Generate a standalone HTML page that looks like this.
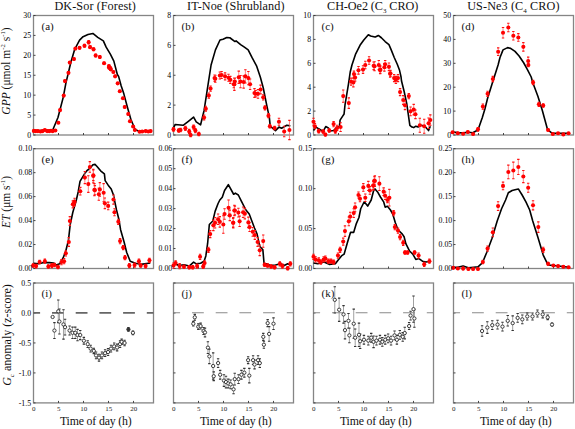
<!DOCTYPE html><html><head><meta charset="utf-8"><style>
html,body{margin:0;padding:0;background:#fff;width:575px;height:429px;overflow:hidden;position:relative}
body{font-family:"Liberation Serif",serif;color:#111}
.t{position:absolute;white-space:nowrap;line-height:1}
.tl{position:absolute;white-space:nowrap;line-height:1;font-size:7.8px;color:#000}
sub,sup{font-size:0.58em;line-height:0}
</style></head><body>
<svg width="575" height="429" viewBox="0 0 575 429" style="position:absolute;left:0;top:0">
<rect x="33.5" y="15.5" width="120" height="119.5" fill="none" stroke="#858585" stroke-width="1.3"/>
<path d="M33.5 135h2 M33.5 115.08h2 M33.5 95.17h2 M33.5 75.25h2 M33.5 55.33h2 M33.5 35.42h2 M33.5 15.5h2 M58.5 135v-2 M83.5 135v-2 M108.5 135v-2 M133.5 135v-2" stroke="#333" stroke-width="0.9" fill="none"/>
<polyline points="33.5,130.91 52.73,130.03 57.97,117.45 63.22,97.34 65.84,83.36 70.21,65 71.19,61.15 74.69,49.27 79.58,40.17 83.08,36.68 87.97,34.58 92.87,33.46 97.76,37.38 103.36,40.87 106.15,47.17 110.35,54.16 113.85,61.15 117.34,74.44 118.6,76.36 121.22,85.98 123.85,93.85 127.34,106.96 130.84,119.2 135.21,129.69 138.71,131.08 150.94,131.08" fill="none" stroke="#000" stroke-width="1.6" stroke-linejoin="round"/>
<path d="M33.85 130.21V131.61 M35.77 130.38V131.78 M37.87 130.38V131.78 M40.49 130.73V132.13 M42.59 130.38V131.78 M44.86 129.34V130.73 M47.13 130.38V131.78 M49.23 130.38V131.78 M50.98 130.03V131.43 M52.73 130.38V131.78 M55.35 129.86V131.26 M58.32 121.82V123.57 M60.07 109.06V111.15 M63.74 94.55V96.64 M64.97 80.03V82.13 M68.46 71.82V73.92 M69.79 61.43V63.67 M73.99 57.94V60.17 M75.38 47.45V49.69 M79.58 46.75V48.99 M84.48 44.37V47.17 M88.67 40.59V43.95 M90.07 45.77V48.57 M93.57 47.87V50.66 M95.66 54.16V56.96 M99.86 55.56V58.36 M104.06 62.13V64.37 M108.95 64.93V67.17 M110.35 67.03V69.27 M108.99 66.57V68.67 M110.73 68.32V70.42 M113.36 70.94V73.04 M115.1 75.31V77.41 M117.73 82.48V84.23 M119.83 90.35V92.1 M122.97 97.34V99.09 M124.72 106.08V107.83 M128.22 113.08V114.83 M129.97 120.42V122.17 M133.11 125.66V127.41 M134.86 129.34V130.73 M139.58 131.08V132.48 M142.2 130.73V132.13 M145.7 130.38V131.78 M148.32 130.73V132.13 M150.59 130.38V131.78" stroke="#f66" stroke-width="0.8" fill="none"/>
<path d="M32.65 130.21h2.4M32.65 131.61h2.4 M34.57 130.38h2.4M34.57 131.78h2.4 M36.67 130.38h2.4M36.67 131.78h2.4 M39.29 130.73h2.4M39.29 132.13h2.4 M41.39 130.38h2.4M41.39 131.78h2.4 M43.66 129.34h2.4M43.66 130.73h2.4 M45.93 130.38h2.4M45.93 131.78h2.4 M48.03 130.38h2.4M48.03 131.78h2.4 M49.78 130.03h2.4M49.78 131.43h2.4 M51.53 130.38h2.4M51.53 131.78h2.4 M54.15 129.86h2.4M54.15 131.26h2.4 M57.12 121.82h2.4M57.12 123.57h2.4 M58.87 109.06h2.4M58.87 111.15h2.4 M62.54 94.55h2.4M62.54 96.64h2.4 M63.77 80.03h2.4M63.77 82.13h2.4 M67.26 71.82h2.4M67.26 73.92h2.4 M68.59 61.43h2.4M68.59 63.67h2.4 M72.79 57.94h2.4M72.79 60.17h2.4 M74.18 47.45h2.4M74.18 49.69h2.4 M78.38 46.75h2.4M78.38 48.99h2.4 M83.28 44.37h2.4M83.28 47.17h2.4 M87.47 40.59h2.4M87.47 43.95h2.4 M88.87 45.77h2.4M88.87 48.57h2.4 M92.37 47.87h2.4M92.37 50.66h2.4 M94.46 54.16h2.4M94.46 56.96h2.4 M98.66 55.56h2.4M98.66 58.36h2.4 M102.86 62.13h2.4M102.86 64.37h2.4 M107.75 64.93h2.4M107.75 67.17h2.4 M109.15 67.03h2.4M109.15 69.27h2.4 M107.79 66.57h2.4M107.79 68.67h2.4 M109.53 68.32h2.4M109.53 70.42h2.4 M112.16 70.94h2.4M112.16 73.04h2.4 M113.9 75.31h2.4M113.9 77.41h2.4 M116.53 82.48h2.4M116.53 84.23h2.4 M118.63 90.35h2.4M118.63 92.1h2.4 M121.77 97.34h2.4M121.77 99.09h2.4 M123.52 106.08h2.4M123.52 107.83h2.4 M127.02 113.08h2.4M127.02 114.83h2.4 M128.77 120.42h2.4M128.77 122.17h2.4 M131.91 125.66h2.4M131.91 127.41h2.4 M133.66 129.34h2.4M133.66 130.73h2.4 M138.38 131.08h2.4M138.38 132.48h2.4 M141 130.73h2.4M141 132.13h2.4 M144.5 130.38h2.4M144.5 131.78h2.4 M147.12 130.73h2.4M147.12 132.13h2.4 M149.39 130.38h2.4M149.39 131.78h2.4" stroke="#f11" stroke-width="1.1" fill="none"/>
<circle cx="33.85" cy="130.91" r="2.05" fill="#f00"/>
<circle cx="35.77" cy="131.08" r="2.05" fill="#f00"/>
<circle cx="37.87" cy="131.08" r="2.05" fill="#f00"/>
<circle cx="40.49" cy="131.43" r="2.05" fill="#f00"/>
<circle cx="42.59" cy="131.08" r="2.05" fill="#f00"/>
<circle cx="44.86" cy="130.03" r="2.05" fill="#f00"/>
<circle cx="47.13" cy="131.08" r="2.05" fill="#f00"/>
<circle cx="49.23" cy="131.08" r="2.05" fill="#f00"/>
<circle cx="50.98" cy="130.73" r="2.05" fill="#f00"/>
<circle cx="52.73" cy="131.08" r="2.05" fill="#f00"/>
<circle cx="55.35" cy="130.56" r="2.05" fill="#f00"/>
<circle cx="58.32" cy="122.69" r="2.05" fill="#f00"/>
<circle cx="60.07" cy="110.1" r="2.05" fill="#f00"/>
<circle cx="63.74" cy="95.59" r="2.05" fill="#f00"/>
<circle cx="64.97" cy="81.08" r="2.05" fill="#f00"/>
<circle cx="68.46" cy="72.87" r="2.05" fill="#f00"/>
<circle cx="69.79" cy="62.55" r="2.05" fill="#f00"/>
<circle cx="73.99" cy="59.06" r="2.05" fill="#f00"/>
<circle cx="75.38" cy="48.57" r="2.05" fill="#f00"/>
<circle cx="79.58" cy="47.87" r="2.05" fill="#f00"/>
<circle cx="84.48" cy="45.77" r="2.05" fill="#f00"/>
<circle cx="88.67" cy="42.27" r="2.05" fill="#f00"/>
<circle cx="90.07" cy="47.17" r="2.05" fill="#f00"/>
<circle cx="93.57" cy="49.27" r="2.05" fill="#f00"/>
<circle cx="95.66" cy="55.56" r="2.05" fill="#f00"/>
<circle cx="99.86" cy="56.96" r="2.05" fill="#f00"/>
<circle cx="104.06" cy="63.25" r="2.05" fill="#f00"/>
<circle cx="108.95" cy="66.05" r="2.05" fill="#f00"/>
<circle cx="110.35" cy="68.15" r="2.05" fill="#f00"/>
<circle cx="108.99" cy="67.62" r="2.05" fill="#f00"/>
<circle cx="110.73" cy="69.37" r="2.05" fill="#f00"/>
<circle cx="113.36" cy="71.99" r="2.05" fill="#f00"/>
<circle cx="115.1" cy="76.36" r="2.05" fill="#f00"/>
<circle cx="117.73" cy="83.36" r="2.05" fill="#f00"/>
<circle cx="119.83" cy="91.22" r="2.05" fill="#f00"/>
<circle cx="122.97" cy="98.22" r="2.05" fill="#f00"/>
<circle cx="124.72" cy="106.96" r="2.05" fill="#f00"/>
<circle cx="128.22" cy="113.95" r="2.05" fill="#f00"/>
<circle cx="129.97" cy="121.29" r="2.05" fill="#f00"/>
<circle cx="133.11" cy="126.54" r="2.05" fill="#f00"/>
<circle cx="134.86" cy="130.03" r="2.05" fill="#f00"/>
<circle cx="139.58" cy="131.78" r="2.05" fill="#f00"/>
<circle cx="142.2" cy="131.43" r="2.05" fill="#f00"/>
<circle cx="145.7" cy="131.08" r="2.05" fill="#f00"/>
<circle cx="148.32" cy="131.43" r="2.05" fill="#f00"/>
<circle cx="150.59" cy="131.08" r="2.05" fill="#f00"/>
<rect x="173.5" y="15.5" width="120" height="119.5" fill="none" stroke="#858585" stroke-width="1.3"/>
<path d="M173.5 135h2 M173.5 105.12h2 M173.5 75.25h2 M173.5 45.38h2 M173.5 15.5h2 M198.5 135v-2 M223.5 135v-2 M248.5 135v-2 M273.5 135v-2" stroke="#333" stroke-width="0.9" fill="none"/>
<polyline points="173.5,127.94 175.24,124.44 183.11,125.31 188.36,121.29 193.6,117.1 196.22,121.82 200.59,124.79 204.09,110.45 207.59,87.73 211.08,65 215.45,49.88 220,40.03 223.03,39.27 226.82,37.45 229.85,37.76 235,41.55 236.06,40.79 240.61,44.58 244.39,47.15 248.18,49.88 251.97,57.45 256.52,65.79 260.3,77 263.22,87.73 266.71,105.21 269.34,117.45 270.21,126.19 275.45,130.56 278.95,127.06 281.57,128.29 286.82,125.31 290.31,125.84" fill="none" stroke="#000" stroke-width="1.6" stroke-linejoin="round"/>
<path d="M173.5 127.59V131.08 M178.74 128.81V132.31 M180.49 128.29V131.78 M185.38 126.19V130.38 M189.23 129.34V133.53 M190.63 133.18V136.68 M193.6 124.97V129.16 M195.35 128.46V132.66 M198.85 132.31V135.8 M204.09 115V119.9 M205.84 106.26V111.15 M208.81 92.97V98.22 M210.56 85.98V91.22 M214.58 74.97V81.26 M219.83 71.99V78.99 M225.07 72.87V79.86 M230.31 76.36V83.36 M233.81 80.73V87.73 M215.3 75.3V82.3 M221.6 71.5V78.5 M228.5 74.3V81.3 M234.8 78.1V85.1 M255.6 90.5V96.9 M234.37 78.11V90.35 M238.74 71.12V83.36 M240.49 75.49V87.73 M243.64 75.84V88.08 M245.38 69.72V83.01 M248.36 71.47V84.76 M250.1 78.99V89.48 M254.48 88.6V97.34 M257.97 89.48V98.22 M260.59 85.1V93.85 M263.22 94.72V99.97 M264.97 105.73V109.93 M268.46 113.6V117.8 M269.86 124.44V127.94 M274.58 126.19V129.69 M278.95 118.32V125.31 M284.2 126.19V136.68 M289.44 120.42V139.65" stroke="#f66" stroke-width="0.8" fill="none"/>
<path d="M172.3 127.59h2.4M172.3 131.08h2.4 M177.54 128.81h2.4M177.54 132.31h2.4 M179.29 128.29h2.4M179.29 131.78h2.4 M184.18 126.19h2.4M184.18 130.38h2.4 M188.03 129.34h2.4M188.03 133.53h2.4 M189.43 133.18h2.4M189.43 136.68h2.4 M192.4 124.97h2.4M192.4 129.16h2.4 M194.15 128.46h2.4M194.15 132.66h2.4 M197.65 132.31h2.4M197.65 135.8h2.4 M202.89 115h2.4M202.89 119.9h2.4 M204.64 106.26h2.4M204.64 111.15h2.4 M207.61 92.97h2.4M207.61 98.22h2.4 M209.36 85.98h2.4M209.36 91.22h2.4 M213.38 74.97h2.4M213.38 81.26h2.4 M218.63 71.99h2.4M218.63 78.99h2.4 M223.87 72.87h2.4M223.87 79.86h2.4 M229.11 76.36h2.4M229.11 83.36h2.4 M232.61 80.73h2.4M232.61 87.73h2.4 M214.1 75.3h2.4M214.1 82.3h2.4 M220.4 71.5h2.4M220.4 78.5h2.4 M227.3 74.3h2.4M227.3 81.3h2.4 M233.6 78.1h2.4M233.6 85.1h2.4 M254.4 90.5h2.4M254.4 96.9h2.4 M233.17 78.11h2.4M233.17 90.35h2.4 M237.54 71.12h2.4M237.54 83.36h2.4 M239.29 75.49h2.4M239.29 87.73h2.4 M242.44 75.84h2.4M242.44 88.08h2.4 M244.18 69.72h2.4M244.18 83.01h2.4 M247.16 71.47h2.4M247.16 84.76h2.4 M248.9 78.99h2.4M248.9 89.48h2.4 M253.28 88.6h2.4M253.28 97.34h2.4 M256.77 89.48h2.4M256.77 98.22h2.4 M259.39 85.1h2.4M259.39 93.85h2.4 M262.02 94.72h2.4M262.02 99.97h2.4 M263.77 105.73h2.4M263.77 109.93h2.4 M267.26 113.6h2.4M267.26 117.8h2.4 M268.66 124.44h2.4M268.66 127.94h2.4 M273.38 126.19h2.4M273.38 129.69h2.4 M277.75 118.32h2.4M277.75 125.31h2.4 M283 126.19h2.4M283 136.68h2.4 M288.24 120.42h2.4M288.24 139.65h2.4" stroke="#f11" stroke-width="1.1" fill="none"/>
<circle cx="173.5" cy="129.34" r="2.05" fill="#f00"/>
<circle cx="178.74" cy="130.56" r="2.05" fill="#f00"/>
<circle cx="180.49" cy="130.03" r="2.05" fill="#f00"/>
<circle cx="185.38" cy="128.29" r="2.05" fill="#f00"/>
<circle cx="189.23" cy="131.43" r="2.05" fill="#f00"/>
<circle cx="190.63" cy="134.93" r="2.05" fill="#f00"/>
<circle cx="193.6" cy="127.06" r="2.05" fill="#f00"/>
<circle cx="195.35" cy="130.56" r="2.05" fill="#f00"/>
<circle cx="198.85" cy="134.06" r="2.05" fill="#f00"/>
<circle cx="204.09" cy="117.45" r="2.05" fill="#f00"/>
<circle cx="205.84" cy="108.71" r="2.05" fill="#f00"/>
<circle cx="208.81" cy="95.59" r="2.05" fill="#f00"/>
<circle cx="210.56" cy="88.6" r="2.05" fill="#f00"/>
<circle cx="214.58" cy="78.11" r="2.05" fill="#f00"/>
<circle cx="219.83" cy="75.49" r="2.05" fill="#f00"/>
<circle cx="225.07" cy="76.36" r="2.05" fill="#f00"/>
<circle cx="230.31" cy="79.86" r="2.05" fill="#f00"/>
<circle cx="233.81" cy="84.23" r="2.05" fill="#f00"/>
<circle cx="215.3" cy="78.8" r="2.05" fill="#f00"/>
<circle cx="221.6" cy="75" r="2.05" fill="#f00"/>
<circle cx="228.5" cy="77.8" r="2.05" fill="#f00"/>
<circle cx="234.8" cy="81.6" r="2.05" fill="#f00"/>
<circle cx="255.6" cy="93.7" r="2.05" fill="#f00"/>
<circle cx="234.37" cy="84.23" r="2.05" fill="#f00"/>
<circle cx="238.74" cy="77.24" r="2.05" fill="#f00"/>
<circle cx="240.49" cy="81.61" r="2.05" fill="#f00"/>
<circle cx="243.64" cy="81.96" r="2.05" fill="#f00"/>
<circle cx="245.38" cy="76.36" r="2.05" fill="#f00"/>
<circle cx="248.36" cy="78.11" r="2.05" fill="#f00"/>
<circle cx="250.1" cy="84.23" r="2.05" fill="#f00"/>
<circle cx="254.48" cy="92.97" r="2.05" fill="#f00"/>
<circle cx="257.97" cy="93.85" r="2.05" fill="#f00"/>
<circle cx="260.59" cy="89.48" r="2.05" fill="#f00"/>
<circle cx="263.22" cy="97.34" r="2.05" fill="#f00"/>
<circle cx="264.97" cy="107.83" r="2.05" fill="#f00"/>
<circle cx="268.46" cy="115.7" r="2.05" fill="#f00"/>
<circle cx="269.86" cy="126.19" r="2.05" fill="#f00"/>
<circle cx="274.58" cy="127.94" r="2.05" fill="#f00"/>
<circle cx="278.95" cy="121.82" r="2.05" fill="#f00"/>
<circle cx="284.2" cy="131.43" r="2.05" fill="#f00"/>
<circle cx="289.44" cy="130.03" r="2.05" fill="#f00"/>
<rect x="313.5" y="15.5" width="120" height="119.5" fill="none" stroke="#858585" stroke-width="1.3"/>
<path d="M313.5 135h2 M313.5 111.1h2 M313.5 87.2h2 M313.5 63.3h2 M313.5 39.4h2 M313.5 15.5h2 M338.5 135v-2 M363.5 135v-2 M388.5 135v-2 M413.5 135v-2" stroke="#333" stroke-width="0.9" fill="none"/>
<polyline points="313.5,130.56 316.12,127.06 318.74,128.81 323.11,131.43 325.73,126.54 328.36,127.94 330.1,131.08 333.6,130.56 337.1,127.06 339.37,127.06 340.07,120.07 342.34,116.57 344.09,113.95 344.97,105.21 346.71,94.72 348.46,84.23 350.21,71.99 351.96,65 355.45,54.42 360,45.33 363.79,40.03 368.33,34.73 370.61,35.94 375,37 375.3,37 378.33,35.48 381.36,37.76 385.15,41.55 388.94,44.58 391.21,49.88 394.24,57.45 397.27,64.27 399.55,70.33 401.06,77 401.47,80.73 404.09,91.22 406.71,103.46 408.46,115.7 409.86,125.31 411.96,127.06 413.71,127.59 415.8,126.19 418.08,127.06 420.7,125.31 423.32,125.84 425.94,127.59 428.57,130.56 430.31,126.19" fill="none" stroke="#000" stroke-width="1.6" stroke-linejoin="round"/>
<path d="M313.5 118.32V125.31 M314.9 123.57V128.81 M318.74 129.34V132.83 M323.11 129.69V133.18 M325.38 133.18V135.98 M329.23 128.81V132.31 M333.6 121.47V126.71 M335.35 128.99V133.18 M337.1 125.31V130.56 M340.59 122.69V131.43 M343.22 90V102.24 M348.81 97.87V108.36 M351.08 78.11V85.1 M353.36 78.11V86.85 M355.1 74.09V81.08 M353.94 71.09V77.15 M358.48 66.55V74.12 M363.03 65.79V73.36 M365.3 61.24V68.82 M369.09 56.7V64.27 M373.64 62V69.58 M374.55 61.7V70.79 M378.79 60.48V69.58 M380.3 65.79V73.36 M384.39 63.52V71.09 M385.15 60.48V68.06 M388.94 63.06V70.64 M390.45 70.33V76.39 M380.14 66.75V73.74 M390.1 70.24V77.24 M394.13 74.62V81.61 M395.87 76.36V83.36 M397.97 74.62V81.61 M400.07 88.6V95.59 M403.22 95.59V104.34 M404.97 100.84V109.58 M408.81 93.5V98.74 M410.56 106.96V115.7 M413.71 104.34V114.83 M415.45 109.93V118.67 M419.83 118.32V132.31 M424.2 119.2V133.18 M428.57 117.97V128.46 M430.31 114.83V125.31" stroke="#f66" stroke-width="0.8" fill="none"/>
<path d="M312.3 118.32h2.4M312.3 125.31h2.4 M313.7 123.57h2.4M313.7 128.81h2.4 M317.54 129.34h2.4M317.54 132.83h2.4 M321.91 129.69h2.4M321.91 133.18h2.4 M324.18 133.18h2.4M324.18 135.98h2.4 M328.03 128.81h2.4M328.03 132.31h2.4 M332.4 121.47h2.4M332.4 126.71h2.4 M334.15 128.99h2.4M334.15 133.18h2.4 M335.9 125.31h2.4M335.9 130.56h2.4 M339.39 122.69h2.4M339.39 131.43h2.4 M342.02 90h2.4M342.02 102.24h2.4 M347.61 97.87h2.4M347.61 108.36h2.4 M349.88 78.11h2.4M349.88 85.1h2.4 M352.16 78.11h2.4M352.16 86.85h2.4 M353.9 74.09h2.4M353.9 81.08h2.4 M352.74 71.09h2.4M352.74 77.15h2.4 M357.28 66.55h2.4M357.28 74.12h2.4 M361.83 65.79h2.4M361.83 73.36h2.4 M364.1 61.24h2.4M364.1 68.82h2.4 M367.89 56.7h2.4M367.89 64.27h2.4 M372.44 62h2.4M372.44 69.58h2.4 M373.35 61.7h2.4M373.35 70.79h2.4 M377.59 60.48h2.4M377.59 69.58h2.4 M379.1 65.79h2.4M379.1 73.36h2.4 M383.19 63.52h2.4M383.19 71.09h2.4 M383.95 60.48h2.4M383.95 68.06h2.4 M387.74 63.06h2.4M387.74 70.64h2.4 M389.25 70.33h2.4M389.25 76.39h2.4 M378.94 66.75h2.4M378.94 73.74h2.4 M388.9 70.24h2.4M388.9 77.24h2.4 M392.93 74.62h2.4M392.93 81.61h2.4 M394.67 76.36h2.4M394.67 83.36h2.4 M396.77 74.62h2.4M396.77 81.61h2.4 M398.87 88.6h2.4M398.87 95.59h2.4 M402.02 95.59h2.4M402.02 104.34h2.4 M403.77 100.84h2.4M403.77 109.58h2.4 M407.61 93.5h2.4M407.61 98.74h2.4 M409.36 106.96h2.4M409.36 115.7h2.4 M412.51 104.34h2.4M412.51 114.83h2.4 M414.25 109.93h2.4M414.25 118.67h2.4 M418.63 118.32h2.4M418.63 132.31h2.4 M423 119.2h2.4M423 133.18h2.4 M427.37 117.97h2.4M427.37 128.46h2.4 M429.11 114.83h2.4M429.11 125.31h2.4" stroke="#f11" stroke-width="1.1" fill="none"/>
<circle cx="313.5" cy="121.82" r="2.05" fill="#f00"/>
<circle cx="314.9" cy="126.19" r="2.05" fill="#f00"/>
<circle cx="318.74" cy="131.08" r="2.05" fill="#f00"/>
<circle cx="323.11" cy="131.43" r="2.05" fill="#f00"/>
<circle cx="325.38" cy="134.58" r="2.05" fill="#f00"/>
<circle cx="329.23" cy="130.56" r="2.05" fill="#f00"/>
<circle cx="333.6" cy="124.09" r="2.05" fill="#f00"/>
<circle cx="335.35" cy="131.08" r="2.05" fill="#f00"/>
<circle cx="337.1" cy="127.94" r="2.05" fill="#f00"/>
<circle cx="340.59" cy="127.06" r="2.05" fill="#f00"/>
<circle cx="343.22" cy="96.12" r="2.05" fill="#f00"/>
<circle cx="348.81" cy="103.11" r="2.05" fill="#f00"/>
<circle cx="351.08" cy="81.61" r="2.05" fill="#f00"/>
<circle cx="353.36" cy="82.48" r="2.05" fill="#f00"/>
<circle cx="355.1" cy="77.59" r="2.05" fill="#f00"/>
<circle cx="353.94" cy="74.12" r="2.05" fill="#f00"/>
<circle cx="358.48" cy="70.33" r="2.05" fill="#f00"/>
<circle cx="363.03" cy="69.58" r="2.05" fill="#f00"/>
<circle cx="365.3" cy="65.03" r="2.05" fill="#f00"/>
<circle cx="369.09" cy="60.48" r="2.05" fill="#f00"/>
<circle cx="373.64" cy="65.79" r="2.05" fill="#f00"/>
<circle cx="374.55" cy="66.24" r="2.05" fill="#f00"/>
<circle cx="378.79" cy="65.03" r="2.05" fill="#f00"/>
<circle cx="380.3" cy="69.58" r="2.05" fill="#f00"/>
<circle cx="384.39" cy="67.3" r="2.05" fill="#f00"/>
<circle cx="385.15" cy="64.27" r="2.05" fill="#f00"/>
<circle cx="388.94" cy="66.85" r="2.05" fill="#f00"/>
<circle cx="390.45" cy="73.36" r="2.05" fill="#f00"/>
<circle cx="380.14" cy="70.24" r="2.05" fill="#f00"/>
<circle cx="390.1" cy="73.74" r="2.05" fill="#f00"/>
<circle cx="394.13" cy="78.11" r="2.05" fill="#f00"/>
<circle cx="395.87" cy="79.86" r="2.05" fill="#f00"/>
<circle cx="397.97" cy="78.11" r="2.05" fill="#f00"/>
<circle cx="400.07" cy="92.1" r="2.05" fill="#f00"/>
<circle cx="403.22" cy="99.97" r="2.05" fill="#f00"/>
<circle cx="404.97" cy="105.21" r="2.05" fill="#f00"/>
<circle cx="408.81" cy="96.12" r="2.05" fill="#f00"/>
<circle cx="410.56" cy="111.33" r="2.05" fill="#f00"/>
<circle cx="413.71" cy="109.58" r="2.05" fill="#f00"/>
<circle cx="415.45" cy="114.3" r="2.05" fill="#f00"/>
<circle cx="419.83" cy="125.31" r="2.05" fill="#f00"/>
<circle cx="424.2" cy="126.19" r="2.05" fill="#f00"/>
<circle cx="428.57" cy="123.22" r="2.05" fill="#f00"/>
<circle cx="430.31" cy="120.07" r="2.05" fill="#f00"/>
<rect x="453.5" y="15.5" width="120" height="119.5" fill="none" stroke="#858585" stroke-width="1.3"/>
<path d="M453.5 135h2 M453.5 111.1h2 M453.5 87.2h2 M453.5 63.3h2 M453.5 39.4h2 M453.5 15.5h2 M478.5 135v-2 M503.5 135v-2 M528.5 135v-2 M553.5 135v-2" stroke="#333" stroke-width="0.9" fill="none"/>
<polyline points="452.62,131.96 457.87,132.66 463.11,132.83 468.36,132.31 472.73,132.83 477.97,130.03 482.34,117.45 484.97,108.71 487.59,98.22 491.96,84.23 498.08,65 500,57.45 503.03,49.88 507.58,47.61 510.61,48.36 515,51.39 519.09,55.94 523.64,62.76 527.42,69.58 531.21,77 532.73,82.48 537.97,96.47 542.34,110.45 547.59,129.69 551.96,133.18 569.44,133.18" fill="none" stroke="#000" stroke-width="1.6" stroke-linejoin="round"/>
<path d="M452.62 131.43V133.18 M457.87 132.31V134.06 M463.11 132.83V134.58 M467.83 131.08V132.83 M473.08 133.18V134.93 M477.97 127.59V131.08 M482.87 103.99V109.23 M487.59 91.22V96.47 M492.83 76.36V81.61 M498.18 47.91V55.48 M503.03 27.45V38.06 M508.33 23.21V31.7 M513.33 31.55V40.03 M518.33 33.67V41.24 M523.33 42.61V51.09 M528.18 57.15V64.73 M528.36 63.25V66.75 M533.08 80.38V84.58 M538.85 102.24V106.43 M543.22 103.81V107.31 M548.11 129.16V130.91 M552.83 133.36V134.76 M558.08 132.48V133.88 M563.32 133.71V135.1 M568.57 132.48V133.88" stroke="#f66" stroke-width="0.8" fill="none"/>
<path d="M451.42 131.43h2.4M451.42 133.18h2.4 M456.67 132.31h2.4M456.67 134.06h2.4 M461.91 132.83h2.4M461.91 134.58h2.4 M466.63 131.08h2.4M466.63 132.83h2.4 M471.88 133.18h2.4M471.88 134.93h2.4 M476.77 127.59h2.4M476.77 131.08h2.4 M481.67 103.99h2.4M481.67 109.23h2.4 M486.39 91.22h2.4M486.39 96.47h2.4 M491.63 76.36h2.4M491.63 81.61h2.4 M496.98 47.91h2.4M496.98 55.48h2.4 M501.83 27.45h2.4M501.83 38.06h2.4 M507.13 23.21h2.4M507.13 31.7h2.4 M512.13 31.55h2.4M512.13 40.03h2.4 M517.13 33.67h2.4M517.13 41.24h2.4 M522.13 42.61h2.4M522.13 51.09h2.4 M526.98 57.15h2.4M526.98 64.73h2.4 M527.16 63.25h2.4M527.16 66.75h2.4 M531.88 80.38h2.4M531.88 84.58h2.4 M537.65 102.24h2.4M537.65 106.43h2.4 M542.02 103.81h2.4M542.02 107.31h2.4 M546.91 129.16h2.4M546.91 130.91h2.4 M551.63 133.36h2.4M551.63 134.76h2.4 M556.88 132.48h2.4M556.88 133.88h2.4 M562.12 133.71h2.4M562.12 135.1h2.4 M567.37 132.48h2.4M567.37 133.88h2.4" stroke="#f11" stroke-width="1.1" fill="none"/>
<circle cx="452.62" cy="132.31" r="2.05" fill="#f00"/>
<circle cx="457.87" cy="133.18" r="2.05" fill="#f00"/>
<circle cx="463.11" cy="133.71" r="2.05" fill="#f00"/>
<circle cx="467.83" cy="131.96" r="2.05" fill="#f00"/>
<circle cx="473.08" cy="134.06" r="2.05" fill="#f00"/>
<circle cx="477.97" cy="129.34" r="2.05" fill="#f00"/>
<circle cx="482.87" cy="106.61" r="2.05" fill="#f00"/>
<circle cx="487.59" cy="93.85" r="2.05" fill="#f00"/>
<circle cx="492.83" cy="78.99" r="2.05" fill="#f00"/>
<circle cx="498.18" cy="51.7" r="2.05" fill="#f00"/>
<circle cx="503.03" cy="32.76" r="2.05" fill="#f00"/>
<circle cx="508.33" cy="27.45" r="2.05" fill="#f00"/>
<circle cx="513.33" cy="35.79" r="2.05" fill="#f00"/>
<circle cx="518.33" cy="37.45" r="2.05" fill="#f00"/>
<circle cx="523.33" cy="46.85" r="2.05" fill="#f00"/>
<circle cx="528.18" cy="60.94" r="2.05" fill="#f00"/>
<circle cx="528.36" cy="65" r="2.05" fill="#f00"/>
<circle cx="533.08" cy="82.48" r="2.05" fill="#f00"/>
<circle cx="538.85" cy="104.34" r="2.05" fill="#f00"/>
<circle cx="543.22" cy="105.56" r="2.05" fill="#f00"/>
<circle cx="548.11" cy="130.03" r="2.05" fill="#f00"/>
<circle cx="552.83" cy="134.06" r="2.05" fill="#f00"/>
<circle cx="558.08" cy="133.18" r="2.05" fill="#f00"/>
<circle cx="563.32" cy="134.41" r="2.05" fill="#f00"/>
<circle cx="568.57" cy="133.18" r="2.05" fill="#f00"/>
<rect x="33.5" y="148.7" width="120" height="119.8" fill="none" stroke="#858585" stroke-width="1.3"/>
<path d="M33.5 268.5h2 M33.5 244.54h2 M33.5 220.58h2 M33.5 196.62h2 M33.5 172.66h2 M33.5 148.7h2 M58.5 268.5v-2 M83.5 268.5v-2 M108.5 268.5v-2 M133.5 268.5v-2" stroke="#333" stroke-width="0.9" fill="none"/>
<polyline points="33.5,263.29 38.74,263.81 43.99,262.59 49.23,262.59 53.6,262.94 56.22,265.03 59.72,263.81 63.22,257.69 65.84,250.7 68.46,240.21 70.21,224.48 72.83,212.24 76.33,200 78.18,191.97 80,181.36 82.27,177.58 84.55,173.79 86.82,170.76 89.85,168.48 92.88,164.7 95,164.39 96.82,166.21 100.61,170.76 104.39,173.79 105.15,180.61 108.18,185.15 111.21,188.94 113.48,195 115,202.58 116.52,210 118.85,219.23 120.59,229.72 124.09,241.96 126.71,252.45 130.21,261.19 135.45,263.29 140.7,264.34 150.31,262.94" fill="none" stroke="#000" stroke-width="1.6" stroke-linejoin="round"/>
<path d="M33.15 263.81V267.31 M36.12 264.34V267.83 M39.62 260.31V263.81 M44.86 259.09V263.29 M48.36 264.69V268.18 M51.85 263.46V267.66 M54.48 263.29V266.78 M57.97 265.21V268.71 M61.47 259.44V264.69 M64.09 258.57V263.81 M65.84 250.7V255.94 M68.81 237.59V246.33 M69.86 216.61V225.35 M72.83 200.87V207.87 M74.58 198.25V205.24 M73.94 200.3V206.36 M80.3 187.42V195 M84.85 171.52V183.64 M88.33 175.76V192.42 M89.85 161.67V172.27 M93.33 170V180.61 M94.39 183.64V195.76 M93.33 169.24V182.88 M94.85 185.61V194.7 M99.85 182.58V196.21 M98.79 188.18V200.3 M103.64 183.64V201.82 M104.85 198.03V208.64 M108.18 202.12V209.7 M113.48 195V204.09 M114.48 208.74V215.73 M118.32 219.23V224.48 M120.07 238.46V243.71 M123.22 245.45V249.65 M124.97 255.59V259.79 M129.34 263.46V267.66 M134.58 262.94V267.13 M138.95 259.09V263.29 M140.7 263.81V267.31 M145.59 264.34V267.83 M149.44 258.22V262.41" stroke="#f66" stroke-width="0.8" fill="none"/>
<path d="M31.95 263.81h2.4M31.95 267.31h2.4 M34.92 264.34h2.4M34.92 267.83h2.4 M38.42 260.31h2.4M38.42 263.81h2.4 M43.66 259.09h2.4M43.66 263.29h2.4 M47.16 264.69h2.4M47.16 268.18h2.4 M50.65 263.46h2.4M50.65 267.66h2.4 M53.28 263.29h2.4M53.28 266.78h2.4 M56.77 265.21h2.4M56.77 268.71h2.4 M60.27 259.44h2.4M60.27 264.69h2.4 M62.89 258.57h2.4M62.89 263.81h2.4 M64.64 250.7h2.4M64.64 255.94h2.4 M67.61 237.59h2.4M67.61 246.33h2.4 M68.66 216.61h2.4M68.66 225.35h2.4 M71.63 200.87h2.4M71.63 207.87h2.4 M73.38 198.25h2.4M73.38 205.24h2.4 M72.74 200.3h2.4M72.74 206.36h2.4 M79.1 187.42h2.4M79.1 195h2.4 M83.65 171.52h2.4M83.65 183.64h2.4 M87.13 175.76h2.4M87.13 192.42h2.4 M88.65 161.67h2.4M88.65 172.27h2.4 M92.13 170h2.4M92.13 180.61h2.4 M93.19 183.64h2.4M93.19 195.76h2.4 M92.13 169.24h2.4M92.13 182.88h2.4 M93.65 185.61h2.4M93.65 194.7h2.4 M98.65 182.58h2.4M98.65 196.21h2.4 M97.59 188.18h2.4M97.59 200.3h2.4 M102.44 183.64h2.4M102.44 201.82h2.4 M103.65 198.03h2.4M103.65 208.64h2.4 M106.98 202.12h2.4M106.98 209.7h2.4 M112.28 195h2.4M112.28 204.09h2.4 M113.28 208.74h2.4M113.28 215.73h2.4 M117.12 219.23h2.4M117.12 224.48h2.4 M118.87 238.46h2.4M118.87 243.71h2.4 M122.02 245.45h2.4M122.02 249.65h2.4 M123.77 255.59h2.4M123.77 259.79h2.4 M128.14 263.46h2.4M128.14 267.66h2.4 M133.38 262.94h2.4M133.38 267.13h2.4 M137.75 259.09h2.4M137.75 263.29h2.4 M139.5 263.81h2.4M139.5 267.31h2.4 M144.39 264.34h2.4M144.39 267.83h2.4 M148.24 258.22h2.4M148.24 262.41h2.4" stroke="#f11" stroke-width="1.1" fill="none"/>
<circle cx="33.15" cy="265.56" r="2.05" fill="#f00"/>
<circle cx="36.12" cy="266.08" r="2.05" fill="#f00"/>
<circle cx="39.62" cy="262.06" r="2.05" fill="#f00"/>
<circle cx="44.86" cy="261.19" r="2.05" fill="#f00"/>
<circle cx="48.36" cy="266.43" r="2.05" fill="#f00"/>
<circle cx="51.85" cy="265.56" r="2.05" fill="#f00"/>
<circle cx="54.48" cy="265.03" r="2.05" fill="#f00"/>
<circle cx="57.97" cy="266.96" r="2.05" fill="#f00"/>
<circle cx="61.47" cy="262.06" r="2.05" fill="#f00"/>
<circle cx="64.09" cy="261.19" r="2.05" fill="#f00"/>
<circle cx="65.84" cy="253.32" r="2.05" fill="#f00"/>
<circle cx="68.81" cy="241.96" r="2.05" fill="#f00"/>
<circle cx="69.86" cy="220.98" r="2.05" fill="#f00"/>
<circle cx="72.83" cy="204.37" r="2.05" fill="#f00"/>
<circle cx="74.58" cy="201.75" r="2.05" fill="#f00"/>
<circle cx="73.94" cy="203.33" r="2.05" fill="#f00"/>
<circle cx="80.3" cy="191.21" r="2.05" fill="#f00"/>
<circle cx="84.85" cy="177.58" r="2.05" fill="#f00"/>
<circle cx="88.33" cy="184.09" r="2.05" fill="#f00"/>
<circle cx="89.85" cy="166.97" r="2.05" fill="#f00"/>
<circle cx="93.33" cy="175.3" r="2.05" fill="#f00"/>
<circle cx="94.39" cy="189.7" r="2.05" fill="#f00"/>
<circle cx="93.33" cy="176.06" r="2.05" fill="#f00"/>
<circle cx="94.85" cy="190.15" r="2.05" fill="#f00"/>
<circle cx="99.85" cy="189.39" r="2.05" fill="#f00"/>
<circle cx="98.79" cy="194.24" r="2.05" fill="#f00"/>
<circle cx="103.64" cy="192.73" r="2.05" fill="#f00"/>
<circle cx="104.85" cy="203.33" r="2.05" fill="#f00"/>
<circle cx="108.18" cy="205.91" r="2.05" fill="#f00"/>
<circle cx="113.48" cy="199.55" r="2.05" fill="#f00"/>
<circle cx="114.48" cy="212.24" r="2.05" fill="#f00"/>
<circle cx="118.32" cy="221.85" r="2.05" fill="#f00"/>
<circle cx="120.07" cy="241.08" r="2.05" fill="#f00"/>
<circle cx="123.22" cy="247.55" r="2.05" fill="#f00"/>
<circle cx="124.97" cy="257.69" r="2.05" fill="#f00"/>
<circle cx="129.34" cy="265.56" r="2.05" fill="#f00"/>
<circle cx="134.58" cy="265.03" r="2.05" fill="#f00"/>
<circle cx="138.95" cy="261.19" r="2.05" fill="#f00"/>
<circle cx="140.7" cy="265.56" r="2.05" fill="#f00"/>
<circle cx="145.59" cy="266.08" r="2.05" fill="#f00"/>
<circle cx="149.44" cy="260.31" r="2.05" fill="#f00"/>
<rect x="173.5" y="148.7" width="120" height="119.8" fill="none" stroke="#858585" stroke-width="1.3"/>
<path d="M173.5 268.5h2 M173.5 248.53h2 M173.5 228.57h2 M173.5 208.6h2 M173.5 188.63h2 M173.5 168.67h2 M173.5 148.7h2 M198.5 268.5v-2 M223.5 268.5v-2 M248.5 268.5v-2 M273.5 268.5v-2" stroke="#333" stroke-width="0.9" fill="none"/>
<polyline points="172.62,265.56 175.24,263.81 178.74,265.56 183.99,264.69 189.23,266.08 193.6,262.06 196.22,263.81 200.59,263.29 204.09,261.19 205.84,255.94 207.59,243.71 209.34,224.48 212.83,220.98 215.1,211.36 218.08,203.5 219.83,200 222.27,197.27 224.55,190.45 228.33,184.7 233.64,194.24 235,193.48 235.3,193.18 238.33,195 241.36,201.06 245.91,210 249.23,213.99 251.85,220.98 254.48,227.97 257.1,234.09 259.72,246.33 262.87,249.83 264.09,263.81 266.71,263.81 270.21,265.56 275.45,265.03 280.7,263.81 284.2,265.56 287.69,263.81 290.31,265.03" fill="none" stroke="#000" stroke-width="1.6" stroke-linejoin="round"/>
<path d="M173.5 262.94V268.18 M175.59 260.84V265.03 M179.62 263.46V268.71 M183.99 265.03V268.53 M189.23 265.56V269.06 M192.73 265.56V269.06 M197.1 263.99V268.18 M200.07 254.2V259.44 M203.22 264.34V268.53 M204.62 260.84V265.03 M208.46 247.2V252.45 M210.21 230.59V237.59 M213.36 220.1V230.59 M215.1 217.48V227.97 M218.08 213.99V224.48 M219.83 216.61V227.1 M223.32 215.73V233.22 M224.55 208.74V219.23 M228.57 200V215.73 M229.79 210.14V220.63 M233.29 217.48V227.97 M234.34 205.24V215.73 M233.15 218.36V227.1 M234.9 206.12V214.86 M238.39 208.22V216.96 M239.62 216.08V226.57 M243.11 206.99V217.48 M244.86 208.39V218.88 M248.36 217.13V227.62 M249.58 222.73V231.47 M252.73 227.45V236.19 M254.83 230.59V239.34 M257.62 237.59V246.33 M259.72 245.1V255.59 M263.22 234.97V247.2 M264.62 262.94V266.43 M267.59 263.81V267.31 M271.08 264.69V268.18 M274.58 265.56V269.06 M279.83 261.71V265.91 M282.45 263.99V268.18 M287.69 266.43V269.93 M290.31 261.71V265.91" stroke="#f66" stroke-width="0.8" fill="none"/>
<path d="M172.3 262.94h2.4M172.3 268.18h2.4 M174.39 260.84h2.4M174.39 265.03h2.4 M178.42 263.46h2.4M178.42 268.71h2.4 M182.79 265.03h2.4M182.79 268.53h2.4 M188.03 265.56h2.4M188.03 269.06h2.4 M191.53 265.56h2.4M191.53 269.06h2.4 M195.9 263.99h2.4M195.9 268.18h2.4 M198.87 254.2h2.4M198.87 259.44h2.4 M202.02 264.34h2.4M202.02 268.53h2.4 M203.42 260.84h2.4M203.42 265.03h2.4 M207.26 247.2h2.4M207.26 252.45h2.4 M209.01 230.59h2.4M209.01 237.59h2.4 M212.16 220.1h2.4M212.16 230.59h2.4 M213.9 217.48h2.4M213.9 227.97h2.4 M216.88 213.99h2.4M216.88 224.48h2.4 M218.63 216.61h2.4M218.63 227.1h2.4 M222.12 215.73h2.4M222.12 233.22h2.4 M223.35 208.74h2.4M223.35 219.23h2.4 M227.37 200h2.4M227.37 215.73h2.4 M228.59 210.14h2.4M228.59 220.63h2.4 M232.09 217.48h2.4M232.09 227.97h2.4 M233.14 205.24h2.4M233.14 215.73h2.4 M231.95 218.36h2.4M231.95 227.1h2.4 M233.7 206.12h2.4M233.7 214.86h2.4 M237.19 208.22h2.4M237.19 216.96h2.4 M238.42 216.08h2.4M238.42 226.57h2.4 M241.91 206.99h2.4M241.91 217.48h2.4 M243.66 208.39h2.4M243.66 218.88h2.4 M247.16 217.13h2.4M247.16 227.62h2.4 M248.38 222.73h2.4M248.38 231.47h2.4 M251.53 227.45h2.4M251.53 236.19h2.4 M253.63 230.59h2.4M253.63 239.34h2.4 M256.42 237.59h2.4M256.42 246.33h2.4 M258.52 245.1h2.4M258.52 255.59h2.4 M262.02 234.97h2.4M262.02 247.2h2.4 M263.42 262.94h2.4M263.42 266.43h2.4 M266.39 263.81h2.4M266.39 267.31h2.4 M269.88 264.69h2.4M269.88 268.18h2.4 M273.38 265.56h2.4M273.38 269.06h2.4 M278.63 261.71h2.4M278.63 265.91h2.4 M281.25 263.99h2.4M281.25 268.18h2.4 M286.49 266.43h2.4M286.49 269.93h2.4 M289.11 261.71h2.4M289.11 265.91h2.4" stroke="#f11" stroke-width="1.1" fill="none"/>
<circle cx="173.5" cy="265.56" r="2.05" fill="#f00"/>
<circle cx="175.59" cy="262.94" r="2.05" fill="#f00"/>
<circle cx="179.62" cy="266.08" r="2.05" fill="#f00"/>
<circle cx="183.99" cy="266.78" r="2.05" fill="#f00"/>
<circle cx="189.23" cy="267.31" r="2.05" fill="#f00"/>
<circle cx="192.73" cy="267.31" r="2.05" fill="#f00"/>
<circle cx="197.1" cy="266.08" r="2.05" fill="#f00"/>
<circle cx="200.07" cy="256.82" r="2.05" fill="#f00"/>
<circle cx="203.22" cy="266.43" r="2.05" fill="#f00"/>
<circle cx="204.62" cy="262.94" r="2.05" fill="#f00"/>
<circle cx="208.46" cy="249.83" r="2.05" fill="#f00"/>
<circle cx="210.21" cy="234.09" r="2.05" fill="#f00"/>
<circle cx="213.36" cy="225.35" r="2.05" fill="#f00"/>
<circle cx="215.1" cy="222.73" r="2.05" fill="#f00"/>
<circle cx="218.08" cy="219.23" r="2.05" fill="#f00"/>
<circle cx="219.83" cy="221.85" r="2.05" fill="#f00"/>
<circle cx="223.32" cy="224.48" r="2.05" fill="#f00"/>
<circle cx="224.55" cy="213.99" r="2.05" fill="#f00"/>
<circle cx="228.57" cy="207.87" r="2.05" fill="#f00"/>
<circle cx="229.79" cy="215.38" r="2.05" fill="#f00"/>
<circle cx="233.29" cy="222.73" r="2.05" fill="#f00"/>
<circle cx="234.34" cy="210.49" r="2.05" fill="#f00"/>
<circle cx="233.15" cy="222.73" r="2.05" fill="#f00"/>
<circle cx="234.9" cy="210.49" r="2.05" fill="#f00"/>
<circle cx="238.39" cy="212.59" r="2.05" fill="#f00"/>
<circle cx="239.62" cy="221.33" r="2.05" fill="#f00"/>
<circle cx="243.11" cy="212.24" r="2.05" fill="#f00"/>
<circle cx="244.86" cy="213.64" r="2.05" fill="#f00"/>
<circle cx="248.36" cy="222.38" r="2.05" fill="#f00"/>
<circle cx="249.58" cy="227.1" r="2.05" fill="#f00"/>
<circle cx="252.73" cy="231.82" r="2.05" fill="#f00"/>
<circle cx="254.83" cy="234.97" r="2.05" fill="#f00"/>
<circle cx="257.62" cy="241.96" r="2.05" fill="#f00"/>
<circle cx="259.72" cy="250.35" r="2.05" fill="#f00"/>
<circle cx="263.22" cy="241.08" r="2.05" fill="#f00"/>
<circle cx="264.62" cy="264.69" r="2.05" fill="#f00"/>
<circle cx="267.59" cy="265.56" r="2.05" fill="#f00"/>
<circle cx="271.08" cy="266.43" r="2.05" fill="#f00"/>
<circle cx="274.58" cy="267.31" r="2.05" fill="#f00"/>
<circle cx="279.83" cy="263.81" r="2.05" fill="#f00"/>
<circle cx="282.45" cy="266.08" r="2.05" fill="#f00"/>
<circle cx="287.69" cy="268.18" r="2.05" fill="#f00"/>
<circle cx="290.31" cy="263.81" r="2.05" fill="#f00"/>
<rect x="313.5" y="148.7" width="120" height="119.8" fill="none" stroke="#858585" stroke-width="1.3"/>
<path d="M313.5 268.5h2 M313.5 228.57h2 M313.5 188.63h2 M313.5 148.7h2 M338.5 268.5v-2 M363.5 268.5v-2 M388.5 268.5v-2 M413.5 268.5v-2" stroke="#333" stroke-width="0.9" fill="none"/>
<polyline points="313.5,262.94 317.87,263.81 323.99,262.06 329.23,264.34 335.35,263.81 337.97,260.31 341.47,255.94 344.09,254.2 347.59,241.96 350.56,232.34 353.71,232.34 356.33,223.6 358.95,217.48 360.7,208.74 364.2,201.75 367.69,206.12 371.19,200 373.64,190.45 375,188.94 377.58,191.97 380.61,197.27 383.64,201.82 385.15,207.12 387.42,206.36 390.45,210 392.73,213.99 395.35,222.73 397.97,229.72 402.34,234.09 404.09,236.71 405.84,243.71 409.34,250.7 412.83,254.2 415.8,259.44 418.95,258.57 422.45,261.19 425.94,262.06 430.31,261.19" fill="none" stroke="#000" stroke-width="1.6" stroke-linejoin="round"/>
<path d="M313.5 254.2V259.44 M315.59 256.82V262.06 M318.74 257.69V262.94 M320.84 259.97V264.16 M323.64 256.82V262.06 M325.38 255.94V261.19 M328.36 259.09V263.29 M330.98 259.09V263.29 M333.6 259.97V264.16 M337.97 252.97V258.22 M340.07 247.2V252.45 M343.22 238.11V245.1 M344.97 225.87V236.36 M348.81 216.96V225.7 M350.21 212.24V220.98 M353.71 208.74V217.48 M355.1 202.97V211.71 M358.48 191.97V198.03 M360 195.76V201.82 M363.33 183.64V191.21 M365.3 193.94V201.52 M368.33 181.36V190.45 M369.85 186.67V194.24 M373.33 181.06V190.15 M374.39 176.82V184.39 M373.33 181.82V189.39 M374.85 175.76V186.36 M379.39 176.82V190.45 M383.64 187.88V195.45 M385.15 191.97V199.55 M389.39 189.39V206.06 M387.48 197.38V202.62 M393.6 210.49V215.73 M394.83 224.48V229.72 M397.97 227.97V233.22 M400.07 234.44V239.69 M403.22 240.21V245.45 M404.97 250.7V254.2 M407.59 250.7V254.2 M414.58 250.7V254.2 M418.6 252.97V258.22 M424.2 262.24V266.43 M429.44 259.09V263.29" stroke="#f66" stroke-width="0.8" fill="none"/>
<path d="M312.3 254.2h2.4M312.3 259.44h2.4 M314.39 256.82h2.4M314.39 262.06h2.4 M317.54 257.69h2.4M317.54 262.94h2.4 M319.64 259.97h2.4M319.64 264.16h2.4 M322.44 256.82h2.4M322.44 262.06h2.4 M324.18 255.94h2.4M324.18 261.19h2.4 M327.16 259.09h2.4M327.16 263.29h2.4 M329.78 259.09h2.4M329.78 263.29h2.4 M332.4 259.97h2.4M332.4 264.16h2.4 M336.77 252.97h2.4M336.77 258.22h2.4 M338.87 247.2h2.4M338.87 252.45h2.4 M342.02 238.11h2.4M342.02 245.1h2.4 M343.77 225.87h2.4M343.77 236.36h2.4 M347.61 216.96h2.4M347.61 225.7h2.4 M349.01 212.24h2.4M349.01 220.98h2.4 M352.51 208.74h2.4M352.51 217.48h2.4 M353.9 202.97h2.4M353.9 211.71h2.4 M357.28 191.97h2.4M357.28 198.03h2.4 M358.8 195.76h2.4M358.8 201.82h2.4 M362.13 183.64h2.4M362.13 191.21h2.4 M364.1 193.94h2.4M364.1 201.52h2.4 M367.13 181.36h2.4M367.13 190.45h2.4 M368.65 186.67h2.4M368.65 194.24h2.4 M372.13 181.06h2.4M372.13 190.15h2.4 M373.19 176.82h2.4M373.19 184.39h2.4 M372.13 181.82h2.4M372.13 189.39h2.4 M373.65 175.76h2.4M373.65 186.36h2.4 M378.19 176.82h2.4M378.19 190.45h2.4 M382.44 187.88h2.4M382.44 195.45h2.4 M383.95 191.97h2.4M383.95 199.55h2.4 M388.19 189.39h2.4M388.19 206.06h2.4 M386.28 197.38h2.4M386.28 202.62h2.4 M392.4 210.49h2.4M392.4 215.73h2.4 M393.63 224.48h2.4M393.63 229.72h2.4 M396.77 227.97h2.4M396.77 233.22h2.4 M398.87 234.44h2.4M398.87 239.69h2.4 M402.02 240.21h2.4M402.02 245.45h2.4 M403.77 250.7h2.4M403.77 254.2h2.4 M406.39 250.7h2.4M406.39 254.2h2.4 M413.38 250.7h2.4M413.38 254.2h2.4 M417.4 252.97h2.4M417.4 258.22h2.4 M423 262.24h2.4M423 266.43h2.4 M428.24 259.09h2.4M428.24 263.29h2.4" stroke="#f11" stroke-width="1.1" fill="none"/>
<circle cx="313.5" cy="256.82" r="2.05" fill="#f00"/>
<circle cx="315.59" cy="259.44" r="2.05" fill="#f00"/>
<circle cx="318.74" cy="260.31" r="2.05" fill="#f00"/>
<circle cx="320.84" cy="262.06" r="2.05" fill="#f00"/>
<circle cx="323.64" cy="259.44" r="2.05" fill="#f00"/>
<circle cx="325.38" cy="258.57" r="2.05" fill="#f00"/>
<circle cx="328.36" cy="261.19" r="2.05" fill="#f00"/>
<circle cx="330.98" cy="261.19" r="2.05" fill="#f00"/>
<circle cx="333.6" cy="262.06" r="2.05" fill="#f00"/>
<circle cx="337.97" cy="255.59" r="2.05" fill="#f00"/>
<circle cx="340.07" cy="249.83" r="2.05" fill="#f00"/>
<circle cx="343.22" cy="241.61" r="2.05" fill="#f00"/>
<circle cx="344.97" cy="231.12" r="2.05" fill="#f00"/>
<circle cx="348.81" cy="221.33" r="2.05" fill="#f00"/>
<circle cx="350.21" cy="216.61" r="2.05" fill="#f00"/>
<circle cx="353.71" cy="213.11" r="2.05" fill="#f00"/>
<circle cx="355.1" cy="207.34" r="2.05" fill="#f00"/>
<circle cx="358.48" cy="195" r="2.05" fill="#f00"/>
<circle cx="360" cy="198.79" r="2.05" fill="#f00"/>
<circle cx="363.33" cy="187.42" r="2.05" fill="#f00"/>
<circle cx="365.3" cy="197.73" r="2.05" fill="#f00"/>
<circle cx="368.33" cy="185.91" r="2.05" fill="#f00"/>
<circle cx="369.85" cy="190.45" r="2.05" fill="#f00"/>
<circle cx="373.33" cy="185.61" r="2.05" fill="#f00"/>
<circle cx="374.39" cy="180.61" r="2.05" fill="#f00"/>
<circle cx="373.33" cy="185.61" r="2.05" fill="#f00"/>
<circle cx="374.85" cy="181.06" r="2.05" fill="#f00"/>
<circle cx="379.39" cy="183.64" r="2.05" fill="#f00"/>
<circle cx="383.64" cy="191.67" r="2.05" fill="#f00"/>
<circle cx="385.15" cy="195.76" r="2.05" fill="#f00"/>
<circle cx="389.39" cy="197.73" r="2.05" fill="#f00"/>
<circle cx="387.48" cy="200" r="2.05" fill="#f00"/>
<circle cx="393.6" cy="213.11" r="2.05" fill="#f00"/>
<circle cx="394.83" cy="227.1" r="2.05" fill="#f00"/>
<circle cx="397.97" cy="230.59" r="2.05" fill="#f00"/>
<circle cx="400.07" cy="237.06" r="2.05" fill="#f00"/>
<circle cx="403.22" cy="242.83" r="2.05" fill="#f00"/>
<circle cx="404.97" cy="252.45" r="2.05" fill="#f00"/>
<circle cx="407.59" cy="252.45" r="2.05" fill="#f00"/>
<circle cx="414.58" cy="252.45" r="2.05" fill="#f00"/>
<circle cx="418.6" cy="255.59" r="2.05" fill="#f00"/>
<circle cx="424.2" cy="264.34" r="2.05" fill="#f00"/>
<circle cx="429.44" cy="261.19" r="2.05" fill="#f00"/>
<rect x="453.5" y="148.7" width="120" height="119.8" fill="none" stroke="#858585" stroke-width="1.3"/>
<path d="M453.5 268.5h2 M453.5 244.54h2 M453.5 220.58h2 M453.5 196.62h2 M453.5 172.66h2 M453.5 148.7h2 M478.5 268.5v-2 M503.5 268.5v-2 M528.5 268.5v-2 M553.5 268.5v-2" stroke="#333" stroke-width="0.9" fill="none"/>
<polyline points="452.62,267.31 457.87,267.31 463.11,266.08 468.36,267.83 473.6,267.31 477.97,266.78 482.34,262.94 486.71,252.45 491.96,238.46 497.2,220.98 501.57,208.74 505.59,200 508.33,192.73 512.12,190.45 515,189.7 518.33,188.94 522.12,195 525.91,201.82 529.7,210 532.73,220.98 537.97,237.59 543.22,255.07 548.11,265.03 553.71,265.56 569.44,267.31" fill="none" stroke="#000" stroke-width="1.6" stroke-linejoin="round"/>
<path d="M453.15 266.96V268.71 M457.87 267.66V269.41 M463.11 267.13V269.93 M468.36 268.18V269.93 M473.08 268.18V269.93 M477.97 268.18V269.93 M482.87 260.31V263.81 M487.59 245.98V251.22 M492.83 227.97V236.71 M498.08 201.75V210.49 M503.03 182.12V189.7 M508.33 165.15V178.79 M513.33 162.12V178.79 M518.33 159.39V174.55 M523.33 170.45V182.58 M528.18 183.18V192.27 M533.03 200.76V209.85 M538.32 221.85V232.34 M543.22 247.2V252.45 M548.11 262.41V265.21 M553.36 264.69V266.43 M558.08 265.21V266.96 M563.32 265.91V267.66 M568.57 266.43V268.18" stroke="#f66" stroke-width="0.8" fill="none"/>
<path d="M451.95 266.96h2.4M451.95 268.71h2.4 M456.67 267.66h2.4M456.67 269.41h2.4 M461.91 267.13h2.4M461.91 269.93h2.4 M467.16 268.18h2.4M467.16 269.93h2.4 M471.88 268.18h2.4M471.88 269.93h2.4 M476.77 268.18h2.4M476.77 269.93h2.4 M481.67 260.31h2.4M481.67 263.81h2.4 M486.39 245.98h2.4M486.39 251.22h2.4 M491.63 227.97h2.4M491.63 236.71h2.4 M496.88 201.75h2.4M496.88 210.49h2.4 M501.83 182.12h2.4M501.83 189.7h2.4 M507.13 165.15h2.4M507.13 178.79h2.4 M512.13 162.12h2.4M512.13 178.79h2.4 M517.13 159.39h2.4M517.13 174.55h2.4 M522.13 170.45h2.4M522.13 182.58h2.4 M526.98 183.18h2.4M526.98 192.27h2.4 M531.83 200.76h2.4M531.83 209.85h2.4 M537.12 221.85h2.4M537.12 232.34h2.4 M542.02 247.2h2.4M542.02 252.45h2.4 M546.91 262.41h2.4M546.91 265.21h2.4 M552.16 264.69h2.4M552.16 266.43h2.4 M556.88 265.21h2.4M556.88 266.96h2.4 M562.12 265.91h2.4M562.12 267.66h2.4 M567.37 266.43h2.4M567.37 268.18h2.4" stroke="#f11" stroke-width="1.1" fill="none"/>
<circle cx="453.15" cy="267.83" r="2.05" fill="#f00"/>
<circle cx="457.87" cy="268.53" r="2.05" fill="#f00"/>
<circle cx="463.11" cy="268.53" r="2.05" fill="#f00"/>
<circle cx="468.36" cy="269.06" r="2.05" fill="#f00"/>
<circle cx="473.08" cy="269.06" r="2.05" fill="#f00"/>
<circle cx="477.97" cy="269.06" r="2.05" fill="#f00"/>
<circle cx="482.87" cy="262.06" r="2.05" fill="#f00"/>
<circle cx="487.59" cy="248.6" r="2.05" fill="#f00"/>
<circle cx="492.83" cy="232.34" r="2.05" fill="#f00"/>
<circle cx="498.08" cy="206.12" r="2.05" fill="#f00"/>
<circle cx="503.03" cy="185.91" r="2.05" fill="#f00"/>
<circle cx="508.33" cy="171.97" r="2.05" fill="#f00"/>
<circle cx="513.33" cy="170.45" r="2.05" fill="#f00"/>
<circle cx="518.33" cy="166.97" r="2.05" fill="#f00"/>
<circle cx="523.33" cy="176.52" r="2.05" fill="#f00"/>
<circle cx="528.18" cy="187.73" r="2.05" fill="#f00"/>
<circle cx="533.03" cy="205.3" r="2.05" fill="#f00"/>
<circle cx="538.32" cy="227.1" r="2.05" fill="#f00"/>
<circle cx="543.22" cy="249.83" r="2.05" fill="#f00"/>
<circle cx="548.11" cy="263.81" r="2.05" fill="#f00"/>
<circle cx="553.36" cy="265.56" r="2.05" fill="#f00"/>
<circle cx="558.08" cy="266.08" r="2.05" fill="#f00"/>
<circle cx="563.32" cy="266.78" r="2.05" fill="#f00"/>
<circle cx="568.57" cy="267.31" r="2.05" fill="#f00"/>
<rect x="33.5" y="283" width="120" height="119.9" fill="none" stroke="#858585" stroke-width="1.3"/>
<path d="M33.5 402.9h2 M33.5 372.92h2 M33.5 342.95h2 M33.5 312.98h2 M33.5 283h2 M58.5 402.9v-2 M83.5 402.9v-2 M108.5 402.9v-2 M133.5 402.9v-2" stroke="#333" stroke-width="0.9" fill="none"/>
<line x1="33.5" y1="312.78" x2="153.5" y2="312.78" stroke="#666" stroke-width="1.8" stroke-dasharray="11.8 11.9" stroke-dashoffset="5.2"/>
<path d="M54.43 322.62V338.46 M58.28 300V322.62 M59.41 309.05V333.94 M63.48 309.73V339.14 M65.07 319.23V335.07 M69.59 326.02V335.07 M72.53 327.15V338.46 M75.25 327.15V338.46 M77.51 329.41V340.72 M80.23 330.54V339.59 M83.85 337.33V344.12 M87.69 340.72V347.51 M90.63 345.25V352.04 M93.8 348.19V353.62 M96.06 352.04V358.82 M99 354.3V361.09 M101.95 352.04V358.82 M105.11 349.77V356.56 M108.05 348.64V355.43 M111 345.25V352.04 M114.16 342.99V349.77 M117.1 344.12V350.9 M120.05 340.72V347.51 M121.63 339.14V344.57 M124.57 340.27V345.7 M128.42 327.6V331.22 M132.94 331V334.62" stroke="#888" stroke-width="0.8" fill="none"/>
<path d="M53.23 322.62h2.4M53.23 338.46h2.4 M57.08 300h2.4M57.08 322.62h2.4 M58.21 309.05h2.4M58.21 333.94h2.4 M62.28 309.73h2.4M62.28 339.14h2.4 M63.87 319.23h2.4M63.87 335.07h2.4 M68.39 326.02h2.4M68.39 335.07h2.4 M71.33 327.15h2.4M71.33 338.46h2.4 M74.05 327.15h2.4M74.05 338.46h2.4 M76.31 329.41h2.4M76.31 340.72h2.4 M79.03 330.54h2.4M79.03 339.59h2.4 M82.65 337.33h2.4M82.65 344.12h2.4 M86.49 340.72h2.4M86.49 347.51h2.4 M89.43 345.25h2.4M89.43 352.04h2.4 M92.6 348.19h2.4M92.6 353.62h2.4 M94.86 352.04h2.4M94.86 358.82h2.4 M97.8 354.3h2.4M97.8 361.09h2.4 M100.75 352.04h2.4M100.75 358.82h2.4 M103.91 349.77h2.4M103.91 356.56h2.4 M106.85 348.64h2.4M106.85 355.43h2.4 M109.8 345.25h2.4M109.8 352.04h2.4 M112.96 342.99h2.4M112.96 349.77h2.4 M115.9 344.12h2.4M115.9 350.9h2.4 M118.85 340.72h2.4M118.85 347.51h2.4 M120.43 339.14h2.4M120.43 344.57h2.4 M123.37 340.27h2.4M123.37 345.7h2.4 M127.22 327.6h2.4M127.22 331.22h2.4 M131.74 331h2.4M131.74 334.62h2.4" stroke="#333" stroke-width="1.1" fill="none"/>
<circle cx="52.62" cy="316.97" r="1.65" fill="#fff" stroke="#333" stroke-width="0.95"/>
<circle cx="54.43" cy="330.54" r="1.65" fill="#fff" stroke="#333" stroke-width="0.95"/>
<circle cx="58.28" cy="311.31" r="1.65" fill="#fff" stroke="#333" stroke-width="0.95"/>
<circle cx="59.41" cy="321.49" r="1.65" fill="#fff" stroke="#333" stroke-width="0.95"/>
<circle cx="63.48" cy="324.43" r="1.65" fill="#fff" stroke="#333" stroke-width="0.95"/>
<circle cx="65.07" cy="327.15" r="1.65" fill="#fff" stroke="#333" stroke-width="0.95"/>
<circle cx="69.59" cy="330.54" r="1.65" fill="#fff" stroke="#333" stroke-width="0.95"/>
<circle cx="72.53" cy="332.81" r="1.65" fill="#fff" stroke="#333" stroke-width="0.95"/>
<circle cx="75.25" cy="332.81" r="1.65" fill="#fff" stroke="#333" stroke-width="0.95"/>
<circle cx="77.51" cy="335.07" r="1.65" fill="#fff" stroke="#333" stroke-width="0.95"/>
<circle cx="80.23" cy="335.07" r="1.65" fill="#fff" stroke="#333" stroke-width="0.95"/>
<circle cx="83.85" cy="340.72" r="1.65" fill="#fff" stroke="#333" stroke-width="0.95"/>
<circle cx="87.69" cy="344.12" r="1.65" fill="#fff" stroke="#333" stroke-width="0.95"/>
<circle cx="90.63" cy="348.64" r="1.65" fill="#fff" stroke="#333" stroke-width="0.95"/>
<circle cx="93.8" cy="350.9" r="1.65" fill="#fff" stroke="#333" stroke-width="0.95"/>
<circle cx="96.06" cy="355.43" r="1.65" fill="#fff" stroke="#333" stroke-width="0.95"/>
<circle cx="99" cy="357.69" r="1.65" fill="#fff" stroke="#333" stroke-width="0.95"/>
<circle cx="101.95" cy="355.43" r="1.65" fill="#fff" stroke="#333" stroke-width="0.95"/>
<circle cx="105.11" cy="353.17" r="1.65" fill="#fff" stroke="#333" stroke-width="0.95"/>
<circle cx="108.05" cy="352.04" r="1.65" fill="#fff" stroke="#333" stroke-width="0.95"/>
<circle cx="111" cy="348.64" r="1.65" fill="#fff" stroke="#333" stroke-width="0.95"/>
<circle cx="114.16" cy="346.38" r="1.65" fill="#fff" stroke="#333" stroke-width="0.95"/>
<circle cx="117.1" cy="347.51" r="1.65" fill="#fff" stroke="#333" stroke-width="0.95"/>
<circle cx="120.05" cy="344.12" r="1.65" fill="#fff" stroke="#333" stroke-width="0.95"/>
<circle cx="121.63" cy="341.86" r="1.65" fill="#fff" stroke="#333" stroke-width="0.95"/>
<circle cx="124.57" cy="342.99" r="1.65" fill="#fff" stroke="#333" stroke-width="0.95"/>
<circle cx="128.42" cy="329.41" r="1.65" fill="#333" stroke="#333" stroke-width="0.95"/>
<circle cx="132.94" cy="332.81" r="1.65" fill="#fff" stroke="#333" stroke-width="0.95"/>
<rect x="173.5" y="283" width="120" height="119.9" fill="none" stroke="#858585" stroke-width="1.3"/>
<path d="M173.5 402.9h2 M173.5 372.92h2 M173.5 342.95h2 M173.5 312.98h2 M173.5 283h2 M198.5 402.9v-2 M223.5 402.9v-2 M248.5 402.9v-2 M273.5 402.9v-2" stroke="#333" stroke-width="0.9" fill="none"/>
<line x1="173.5" y1="312.78" x2="293.5" y2="312.78" stroke="#8a8a8a" stroke-width="1.1" stroke-dasharray="11.8 11.9" stroke-dashoffset="5.2"/>
<path d="M194.78 314.4V320.23 M193.32 321.4V326.06 M198.28 323.73V329.56 M200.61 323.15V328.98 M203.53 327.52V334.52 M204.99 328.1V336.85 M207.9 341.81V353.47 M209.36 349.1V363.67 M213.15 352.89V379.13 M213.73 371.84V380.58 M218.1 358.72V367.46 M220.15 370.38V379.13 M223.94 374.75V386.41 M225.98 376.21V387.87 M228.31 379.13V387.87 M230.64 380V388.75 M233.56 384.96V393.7 M234.72 373.29V384.96 M238.51 374.75V383.5 M241.43 370.38V379.13 M244.34 368.34V377.08 M248.13 356.68V363.67 M249.3 368.34V382.92 M253.09 355.8V364.55 M254.55 360.17V368.92 M258.05 355.8V364.55 M259.8 358.72V367.46 M263.29 333.35V340.35 M263.88 341.22V348.22 M269.13 326.65V341.22 M267.67 319.65V326.65 M273.5 317.9V329.56" stroke="#888" stroke-width="0.8" fill="none"/>
<path d="M193.58 314.4h2.4M193.58 320.23h2.4 M192.12 321.4h2.4M192.12 326.06h2.4 M197.08 323.73h2.4M197.08 329.56h2.4 M199.41 323.15h2.4M199.41 328.98h2.4 M202.33 327.52h2.4M202.33 334.52h2.4 M203.79 328.1h2.4M203.79 336.85h2.4 M206.7 341.81h2.4M206.7 353.47h2.4 M208.16 349.1h2.4M208.16 363.67h2.4 M211.95 352.89h2.4M211.95 379.13h2.4 M212.53 371.84h2.4M212.53 380.58h2.4 M216.9 358.72h2.4M216.9 367.46h2.4 M218.95 370.38h2.4M218.95 379.13h2.4 M222.74 374.75h2.4M222.74 386.41h2.4 M224.78 376.21h2.4M224.78 387.87h2.4 M227.11 379.13h2.4M227.11 387.87h2.4 M229.44 380h2.4M229.44 388.75h2.4 M232.36 384.96h2.4M232.36 393.7h2.4 M233.52 373.29h2.4M233.52 384.96h2.4 M237.31 374.75h2.4M237.31 383.5h2.4 M240.23 370.38h2.4M240.23 379.13h2.4 M243.14 368.34h2.4M243.14 377.08h2.4 M246.93 356.68h2.4M246.93 363.67h2.4 M248.1 368.34h2.4M248.1 382.92h2.4 M251.89 355.8h2.4M251.89 364.55h2.4 M253.35 360.17h2.4M253.35 368.92h2.4 M256.85 355.8h2.4M256.85 364.55h2.4 M258.6 358.72h2.4M258.6 367.46h2.4 M262.09 333.35h2.4M262.09 340.35h2.4 M262.68 341.22h2.4M262.68 348.22h2.4 M267.93 326.65h2.4M267.93 341.22h2.4 M266.47 319.65h2.4M266.47 326.65h2.4 M272.3 317.9h2.4M272.3 329.56h2.4" stroke="#333" stroke-width="1.1" fill="none"/>
<circle cx="194.78" cy="317.32" r="1.65" fill="#fff" stroke="#333" stroke-width="0.95"/>
<circle cx="193.32" cy="323.73" r="1.65" fill="#fff" stroke="#333" stroke-width="0.95"/>
<circle cx="198.28" cy="326.65" r="1.65" fill="#fff" stroke="#333" stroke-width="0.95"/>
<circle cx="200.61" cy="326.06" r="1.65" fill="#fff" stroke="#333" stroke-width="0.95"/>
<circle cx="203.53" cy="331.02" r="1.65" fill="#fff" stroke="#333" stroke-width="0.95"/>
<circle cx="204.99" cy="332.48" r="1.65" fill="#fff" stroke="#333" stroke-width="0.95"/>
<circle cx="207.9" cy="347.64" r="1.65" fill="#fff" stroke="#333" stroke-width="0.95"/>
<circle cx="209.36" cy="356.38" r="1.65" fill="#fff" stroke="#333" stroke-width="0.95"/>
<circle cx="213.15" cy="366.01" r="1.65" fill="#fff" stroke="#333" stroke-width="0.95"/>
<circle cx="213.73" cy="376.21" r="1.65" fill="#fff" stroke="#333" stroke-width="0.95"/>
<circle cx="218.1" cy="363.09" r="1.65" fill="#fff" stroke="#333" stroke-width="0.95"/>
<circle cx="220.15" cy="374.75" r="1.65" fill="#fff" stroke="#333" stroke-width="0.95"/>
<circle cx="223.94" cy="380.58" r="1.65" fill="#fff" stroke="#333" stroke-width="0.95"/>
<circle cx="225.98" cy="382.04" r="1.65" fill="#fff" stroke="#333" stroke-width="0.95"/>
<circle cx="228.31" cy="383.5" r="1.65" fill="#fff" stroke="#333" stroke-width="0.95"/>
<circle cx="230.64" cy="384.37" r="1.65" fill="#fff" stroke="#333" stroke-width="0.95"/>
<circle cx="233.56" cy="389.33" r="1.65" fill="#fff" stroke="#333" stroke-width="0.95"/>
<circle cx="234.72" cy="379.13" r="1.65" fill="#fff" stroke="#333" stroke-width="0.95"/>
<circle cx="238.51" cy="379.13" r="1.65" fill="#fff" stroke="#333" stroke-width="0.95"/>
<circle cx="241.43" cy="374.75" r="1.65" fill="#fff" stroke="#333" stroke-width="0.95"/>
<circle cx="244.34" cy="372.71" r="1.65" fill="#fff" stroke="#333" stroke-width="0.95"/>
<circle cx="248.13" cy="360.17" r="1.65" fill="#fff" stroke="#333" stroke-width="0.95"/>
<circle cx="249.3" cy="375.63" r="1.65" fill="#fff" stroke="#333" stroke-width="0.95"/>
<circle cx="253.09" cy="360.17" r="1.65" fill="#fff" stroke="#333" stroke-width="0.95"/>
<circle cx="254.55" cy="364.55" r="1.65" fill="#fff" stroke="#333" stroke-width="0.95"/>
<circle cx="258.05" cy="360.17" r="1.65" fill="#fff" stroke="#333" stroke-width="0.95"/>
<circle cx="259.8" cy="363.09" r="1.65" fill="#fff" stroke="#333" stroke-width="0.95"/>
<circle cx="263.29" cy="336.85" r="1.65" fill="#fff" stroke="#333" stroke-width="0.95"/>
<circle cx="263.88" cy="344.72" r="1.65" fill="#fff" stroke="#333" stroke-width="0.95"/>
<circle cx="269.13" cy="333.94" r="1.65" fill="#fff" stroke="#333" stroke-width="0.95"/>
<circle cx="267.67" cy="323.15" r="1.65" fill="#fff" stroke="#333" stroke-width="0.95"/>
<circle cx="273.5" cy="323.73" r="1.65" fill="#fff" stroke="#333" stroke-width="0.95"/>
<rect x="313.5" y="283" width="120" height="119.9" fill="none" stroke="#858585" stroke-width="1.3"/>
<path d="M313.5 402.9h2 M313.5 372.92h2 M313.5 342.95h2 M313.5 312.98h2 M313.5 283h2 M338.5 402.9v-2 M363.5 402.9v-2 M388.5 402.9v-2 M413.5 402.9v-2" stroke="#333" stroke-width="0.9" fill="none"/>
<line x1="313.5" y1="312.78" x2="433.5" y2="312.78" stroke="#8a8a8a" stroke-width="1.1" stroke-dasharray="11.8 11.9" stroke-dashoffset="5.2"/>
<path d="M334.78 286.71V312.94 M339.15 298.08V321.4 M343.53 305.66V323.15 M344.99 321.4V338.89 M348.48 313.53V328.1 M349.36 328.1V342.68 M353.73 309.15V338.31 M355.19 328.98V346.47 M358.98 323.15V346.47 M360.15 333.94V348.51 M363.94 335.39V344.14 M368.31 336.27V345.01 M371.22 333.35V342.1 M373.56 335.98V347.64 M376.47 336.27V345.01 M379.97 335.39V344.14 M382.3 337.43V346.18 M385.22 335.39V344.14 M388.13 333.94V342.68 M391.05 336.27V345.01 M394.55 331.02V339.77 M396.88 335.39V344.14 M399.8 330.44V339.18 M402.71 332.48V341.22 M404.75 327.23V338.89 M409.13 322.57V329.56 M410.58 311.2V319.94 M413.5 296.03V322.27 M414.37 309.74V327.23" stroke="#888" stroke-width="0.8" fill="none"/>
<path d="M333.58 286.71h2.4M333.58 312.94h2.4 M337.95 298.08h2.4M337.95 321.4h2.4 M342.33 305.66h2.4M342.33 323.15h2.4 M343.79 321.4h2.4M343.79 338.89h2.4 M347.28 313.53h2.4M347.28 328.1h2.4 M348.16 328.1h2.4M348.16 342.68h2.4 M352.53 309.15h2.4M352.53 338.31h2.4 M353.99 328.98h2.4M353.99 346.47h2.4 M357.78 323.15h2.4M357.78 346.47h2.4 M358.95 333.94h2.4M358.95 348.51h2.4 M362.74 335.39h2.4M362.74 344.14h2.4 M367.11 336.27h2.4M367.11 345.01h2.4 M370.02 333.35h2.4M370.02 342.1h2.4 M372.36 335.98h2.4M372.36 347.64h2.4 M375.27 336.27h2.4M375.27 345.01h2.4 M378.77 335.39h2.4M378.77 344.14h2.4 M381.1 337.43h2.4M381.1 346.18h2.4 M384.02 335.39h2.4M384.02 344.14h2.4 M386.93 333.94h2.4M386.93 342.68h2.4 M389.85 336.27h2.4M389.85 345.01h2.4 M393.35 331.02h2.4M393.35 339.77h2.4 M395.68 335.39h2.4M395.68 344.14h2.4 M398.6 330.44h2.4M398.6 339.18h2.4 M401.51 332.48h2.4M401.51 341.22h2.4 M403.55 327.23h2.4M403.55 338.89h2.4 M407.93 322.57h2.4M407.93 329.56h2.4 M409.38 311.2h2.4M409.38 319.94h2.4 M412.3 296.03h2.4M412.3 322.27h2.4 M413.17 309.74h2.4M413.17 327.23h2.4" stroke="#333" stroke-width="1.1" fill="none"/>
<circle cx="334.78" cy="299.83" r="1.65" fill="#fff" stroke="#333" stroke-width="0.95"/>
<circle cx="339.15" cy="309.74" r="1.65" fill="#fff" stroke="#333" stroke-width="0.95"/>
<circle cx="343.53" cy="314.4" r="1.65" fill="#fff" stroke="#333" stroke-width="0.95"/>
<circle cx="344.99" cy="330.15" r="1.65" fill="#fff" stroke="#333" stroke-width="0.95"/>
<circle cx="348.48" cy="320.82" r="1.65" fill="#fff" stroke="#333" stroke-width="0.95"/>
<circle cx="349.36" cy="335.39" r="1.65" fill="#fff" stroke="#333" stroke-width="0.95"/>
<circle cx="353.73" cy="323.73" r="1.65" fill="#fff" stroke="#333" stroke-width="0.95"/>
<circle cx="355.19" cy="337.73" r="1.65" fill="#fff" stroke="#333" stroke-width="0.95"/>
<circle cx="358.98" cy="334.81" r="1.65" fill="#fff" stroke="#333" stroke-width="0.95"/>
<circle cx="360.15" cy="341.22" r="1.65" fill="#fff" stroke="#333" stroke-width="0.95"/>
<circle cx="363.94" cy="339.77" r="1.65" fill="#fff" stroke="#333" stroke-width="0.95"/>
<circle cx="368.31" cy="340.64" r="1.65" fill="#fff" stroke="#333" stroke-width="0.95"/>
<circle cx="371.22" cy="337.73" r="1.65" fill="#fff" stroke="#333" stroke-width="0.95"/>
<circle cx="373.56" cy="341.81" r="1.65" fill="#fff" stroke="#333" stroke-width="0.95"/>
<circle cx="376.47" cy="340.64" r="1.65" fill="#fff" stroke="#333" stroke-width="0.95"/>
<circle cx="379.97" cy="339.77" r="1.65" fill="#fff" stroke="#333" stroke-width="0.95"/>
<circle cx="382.3" cy="341.81" r="1.65" fill="#fff" stroke="#333" stroke-width="0.95"/>
<circle cx="385.22" cy="339.77" r="1.65" fill="#fff" stroke="#333" stroke-width="0.95"/>
<circle cx="388.13" cy="338.31" r="1.65" fill="#fff" stroke="#333" stroke-width="0.95"/>
<circle cx="391.05" cy="340.64" r="1.65" fill="#fff" stroke="#333" stroke-width="0.95"/>
<circle cx="394.55" cy="335.39" r="1.65" fill="#fff" stroke="#333" stroke-width="0.95"/>
<circle cx="396.88" cy="339.77" r="1.65" fill="#fff" stroke="#333" stroke-width="0.95"/>
<circle cx="399.8" cy="334.81" r="1.65" fill="#fff" stroke="#333" stroke-width="0.95"/>
<circle cx="402.71" cy="336.85" r="1.65" fill="#fff" stroke="#333" stroke-width="0.95"/>
<circle cx="404.75" cy="333.06" r="1.65" fill="#fff" stroke="#333" stroke-width="0.95"/>
<circle cx="409.13" cy="326.06" r="1.65" fill="#fff" stroke="#333" stroke-width="0.95"/>
<circle cx="410.58" cy="315.57" r="1.65" fill="#fff" stroke="#333" stroke-width="0.95"/>
<circle cx="413.5" cy="309.15" r="1.65" fill="#fff" stroke="#333" stroke-width="0.95"/>
<circle cx="414.37" cy="318.48" r="1.65" fill="#fff" stroke="#333" stroke-width="0.95"/>
<rect x="453.5" y="283" width="120" height="119.9" fill="none" stroke="#858585" stroke-width="1.3"/>
<path d="M453.5 402.9h2 M453.5 372.92h2 M453.5 342.95h2 M453.5 312.98h2 M453.5 283h2 M478.5 402.9v-2 M503.5 402.9v-2 M528.5 402.9v-2 M553.5 402.9v-2" stroke="#333" stroke-width="0.9" fill="none"/>
<line x1="453.5" y1="312.78" x2="573.5" y2="312.78" stroke="#8a8a8a" stroke-width="1.1" stroke-dasharray="11.8 11.9" stroke-dashoffset="5.2"/>
<path d="M482.07 325.77V336.27 M487.32 321.69V333.35 M492.27 320.82V329.56 M497.52 320.23V328.98 M502.48 322.27V331.02 M507.73 315.57V326.06 M512.68 315.86V330.44 M517.64 313.53V322.27 M522.3 314.99V323.73 M527.26 312.94V319.94 M532.51 312.94V319.94 M537.46 310.03V317.03 M542.71 310.9V317.9 M547.67 314.99V319.65 M552.04 323.15V326.06" stroke="#888" stroke-width="0.8" fill="none"/>
<path d="M480.87 325.77h2.4M480.87 336.27h2.4 M486.12 321.69h2.4M486.12 333.35h2.4 M491.07 320.82h2.4M491.07 329.56h2.4 M496.32 320.23h2.4M496.32 328.98h2.4 M501.28 322.27h2.4M501.28 331.02h2.4 M506.53 315.57h2.4M506.53 326.06h2.4 M511.48 315.86h2.4M511.48 330.44h2.4 M516.44 313.53h2.4M516.44 322.27h2.4 M521.1 314.99h2.4M521.1 323.73h2.4 M526.06 312.94h2.4M526.06 319.94h2.4 M531.31 312.94h2.4M531.31 319.94h2.4 M536.26 310.03h2.4M536.26 317.03h2.4 M541.51 310.9h2.4M541.51 317.9h2.4 M546.47 314.99h2.4M546.47 319.65h2.4 M550.84 323.15h2.4M550.84 326.06h2.4" stroke="#333" stroke-width="1.1" fill="none"/>
<circle cx="482.07" cy="331.02" r="1.65" fill="#fff" stroke="#333" stroke-width="0.95"/>
<circle cx="487.32" cy="327.52" r="1.65" fill="#fff" stroke="#333" stroke-width="0.95"/>
<circle cx="492.27" cy="325.19" r="1.65" fill="#fff" stroke="#333" stroke-width="0.95"/>
<circle cx="497.52" cy="324.61" r="1.65" fill="#fff" stroke="#333" stroke-width="0.95"/>
<circle cx="502.48" cy="326.65" r="1.65" fill="#fff" stroke="#333" stroke-width="0.95"/>
<circle cx="507.73" cy="320.82" r="1.65" fill="#fff" stroke="#333" stroke-width="0.95"/>
<circle cx="512.68" cy="323.15" r="1.65" fill="#fff" stroke="#333" stroke-width="0.95"/>
<circle cx="517.64" cy="317.9" r="1.65" fill="#fff" stroke="#333" stroke-width="0.95"/>
<circle cx="522.3" cy="319.36" r="1.65" fill="#fff" stroke="#333" stroke-width="0.95"/>
<circle cx="527.26" cy="316.44" r="1.65" fill="#fff" stroke="#333" stroke-width="0.95"/>
<circle cx="532.51" cy="316.44" r="1.65" fill="#fff" stroke="#333" stroke-width="0.95"/>
<circle cx="537.46" cy="313.53" r="1.65" fill="#fff" stroke="#333" stroke-width="0.95"/>
<circle cx="542.71" cy="314.4" r="1.65" fill="#fff" stroke="#333" stroke-width="0.95"/>
<circle cx="547.67" cy="317.32" r="1.65" fill="#fff" stroke="#333" stroke-width="0.95"/>
<circle cx="552.04" cy="324.61" r="1.65" fill="#fff" stroke="#333" stroke-width="0.95"/>
</svg>
<div class="t" style="left:54.5px;top:0.1px;font-size:12.2px;letter-spacing:0.07px">DK-Sor (Forest)</div>
<div class="t" style="left:187.1px;top:0.1px;font-size:12.2px;letter-spacing:0.08px">IT-Noe (Shrubland)</div>
<div class="t" style="left:327.1px;top:0.1px;font-size:12.2px;letter-spacing:-0.08px">CH-Oe2 (C<sub>3</sub> CRO)</div>
<div class="t" style="left:467.2px;top:0.1px;font-size:12.2px;letter-spacing:0.1px">US-Ne3 (C<sub>4</sub> CRO)</div>
<div class="tl" style="right:543.9px;top:131.7px">0</div>
<div class="tl" style="right:543.9px;top:111.78px">5</div>
<div class="tl" style="right:543.9px;top:91.87px">10</div>
<div class="tl" style="right:543.9px;top:71.95px">15</div>
<div class="tl" style="right:543.9px;top:52.03px">20</div>
<div class="tl" style="right:543.9px;top:32.12px">25</div>
<div class="tl" style="right:543.9px;top:12.2px">30</div>
<div class="t" style="left:41.5px;top:20.6px;font-size:11px">(a)</div>
<div class="tl" style="right:403.9px;top:131.7px">0</div>
<div class="tl" style="right:403.9px;top:101.83px">2</div>
<div class="tl" style="right:403.9px;top:71.95px">4</div>
<div class="tl" style="right:403.9px;top:42.08px">6</div>
<div class="tl" style="right:403.9px;top:12.2px">8</div>
<div class="t" style="left:181.5px;top:20.6px;font-size:11px">(b)</div>
<div class="tl" style="right:263.9px;top:131.7px">0</div>
<div class="tl" style="right:263.9px;top:107.8px">2</div>
<div class="tl" style="right:263.9px;top:83.9px">4</div>
<div class="tl" style="right:263.9px;top:60px">6</div>
<div class="tl" style="right:263.9px;top:36.1px">8</div>
<div class="tl" style="right:263.9px;top:12.2px">10</div>
<div class="t" style="left:321.5px;top:20.6px;font-size:11px">(c)</div>
<div class="tl" style="right:123.9px;top:131.7px">0</div>
<div class="tl" style="right:123.9px;top:107.8px">10</div>
<div class="tl" style="right:123.9px;top:83.9px">20</div>
<div class="tl" style="right:123.9px;top:60px">30</div>
<div class="tl" style="right:123.9px;top:36.1px">40</div>
<div class="tl" style="right:123.9px;top:12.2px">50</div>
<div class="t" style="left:461.5px;top:20.6px;font-size:11px">(d)</div>
<div class="tl" style="right:542.8px;top:265.2px">0.00</div>
<div class="tl" style="right:542.8px;top:241.24px">0.02</div>
<div class="tl" style="right:542.8px;top:217.28px">0.04</div>
<div class="tl" style="right:542.8px;top:193.32px">0.06</div>
<div class="tl" style="right:542.8px;top:169.36px">0.08</div>
<div class="tl" style="right:542.8px;top:145.4px">0.10</div>
<div class="t" style="left:41.5px;top:153.8px;font-size:11px">(e)</div>
<div class="tl" style="right:402.8px;top:265.2px">0.00</div>
<div class="tl" style="right:402.8px;top:245.23px">0.01</div>
<div class="tl" style="right:402.8px;top:225.27px">0.02</div>
<div class="tl" style="right:402.8px;top:205.3px">0.03</div>
<div class="tl" style="right:402.8px;top:185.33px">0.04</div>
<div class="tl" style="right:402.8px;top:165.37px">0.05</div>
<div class="tl" style="right:402.8px;top:145.4px">0.06</div>
<div class="t" style="left:181.5px;top:153.8px;font-size:11px">(f)</div>
<div class="tl" style="right:262.8px;top:265.2px">0.00</div>
<div class="tl" style="right:262.8px;top:225.27px">0.05</div>
<div class="tl" style="right:262.8px;top:185.33px">0.10</div>
<div class="tl" style="right:262.8px;top:145.4px">0.15</div>
<div class="t" style="left:321.5px;top:153.8px;font-size:11px">(g)</div>
<div class="tl" style="right:122.8px;top:265.2px">0.00</div>
<div class="tl" style="right:122.8px;top:241.24px">0.05</div>
<div class="tl" style="right:122.8px;top:217.28px">0.10</div>
<div class="tl" style="right:122.8px;top:193.32px">0.15</div>
<div class="tl" style="right:122.8px;top:169.36px">0.20</div>
<div class="tl" style="right:122.8px;top:145.4px">0.25</div>
<div class="t" style="left:461.5px;top:153.8px;font-size:11px">(h)</div>
<div class="tl" style="right:543.9px;top:399.6px">-1.5</div>
<div class="tl" style="right:543.9px;top:369.62px">-1.0</div>
<div class="tl" style="right:543.9px;top:339.65px">-0.5</div>
<div class="tl" style="right:543.9px;top:309.68px">0.0</div>
<div class="tl" style="right:543.9px;top:279.7px">0.5</div>
<div class="tl" style="left:13.8px;width:40px;text-align:center;top:406.1px;font-size:7px;color:#222">0</div>
<div class="tl" style="left:38.8px;width:40px;text-align:center;top:406.1px;font-size:7px;color:#222">5</div>
<div class="tl" style="left:63.8px;width:40px;text-align:center;top:406.1px;font-size:7px;color:#222">10</div>
<div class="tl" style="left:88.8px;width:40px;text-align:center;top:406.1px;font-size:7px;color:#222">15</div>
<div class="tl" style="left:113.8px;width:40px;text-align:center;top:406.1px;font-size:7px;color:#222">20</div>
<div class="t" style="left:59.9px;top:416.1px;font-size:11.8px;letter-spacing:-0.15px">Time of day (h)</div>
<div class="t" style="left:41.5px;top:288.1px;font-size:11px">(i)</div>
<div class="tl" style="left:153.8px;width:40px;text-align:center;top:406.1px;font-size:7px;color:#222">0</div>
<div class="tl" style="left:178.8px;width:40px;text-align:center;top:406.1px;font-size:7px;color:#222">5</div>
<div class="tl" style="left:203.8px;width:40px;text-align:center;top:406.1px;font-size:7px;color:#222">10</div>
<div class="tl" style="left:228.8px;width:40px;text-align:center;top:406.1px;font-size:7px;color:#222">15</div>
<div class="tl" style="left:253.8px;width:40px;text-align:center;top:406.1px;font-size:7px;color:#222">20</div>
<div class="t" style="left:199.9px;top:416.1px;font-size:11.8px;letter-spacing:-0.15px">Time of day (h)</div>
<div class="t" style="left:181.5px;top:288.1px;font-size:11px">(j)</div>
<div class="tl" style="left:293.8px;width:40px;text-align:center;top:406.1px;font-size:7px;color:#222">0</div>
<div class="tl" style="left:318.8px;width:40px;text-align:center;top:406.1px;font-size:7px;color:#222">5</div>
<div class="tl" style="left:343.8px;width:40px;text-align:center;top:406.1px;font-size:7px;color:#222">10</div>
<div class="tl" style="left:368.8px;width:40px;text-align:center;top:406.1px;font-size:7px;color:#222">15</div>
<div class="tl" style="left:393.8px;width:40px;text-align:center;top:406.1px;font-size:7px;color:#222">20</div>
<div class="t" style="left:339.9px;top:416.1px;font-size:11.8px;letter-spacing:-0.15px">Time of day (h)</div>
<div class="t" style="left:321.5px;top:288.1px;font-size:11px">(k)</div>
<div class="tl" style="left:433.8px;width:40px;text-align:center;top:406.1px;font-size:7px;color:#222">0</div>
<div class="tl" style="left:458.8px;width:40px;text-align:center;top:406.1px;font-size:7px;color:#222">5</div>
<div class="tl" style="left:483.8px;width:40px;text-align:center;top:406.1px;font-size:7px;color:#222">10</div>
<div class="tl" style="left:508.8px;width:40px;text-align:center;top:406.1px;font-size:7px;color:#222">15</div>
<div class="tl" style="left:533.8px;width:40px;text-align:center;top:406.1px;font-size:7px;color:#222">20</div>
<div class="t" style="left:479.9px;top:416.1px;font-size:11.8px;letter-spacing:-0.15px">Time of day (h)</div>
<div class="t" style="left:461.5px;top:288.1px;font-size:11px">(l)</div>
<div class="t" style="left:6.9px;top:70.5px;font-size:11.5px;transform:translate(-50%,-50%) rotate(-90deg)"><i>GPP</i> (μmol m<sup>-2</sup> s<sup>-1</sup>)</div>
<div class="t" style="left:6.9px;top:201.6px;font-size:11.5px;transform:translate(-50%,-50%) rotate(-90deg)"><i>ET</i> (μm s<sup>-1</sup>)</div>
<div class="t" style="left:6.5px;top:334.5px;font-size:12px;transform:translate(-50%,-50%) rotate(-90deg)"><i>G</i><sub>c</sub> anomaly (z-score)</div>
</body></html>
